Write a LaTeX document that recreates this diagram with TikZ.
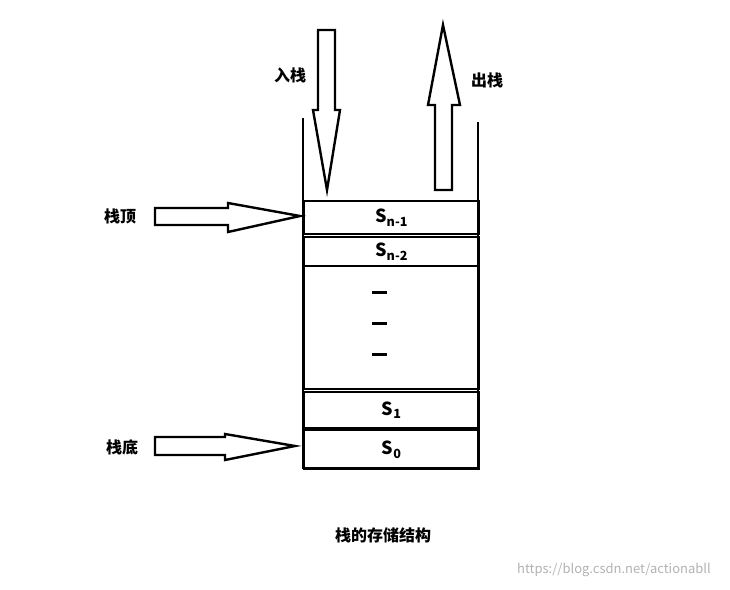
\documentclass[tikz,border=0pt]{standalone}
\usepackage{fontspec}
\setmainfont{Noto Sans CJK SC}
\begin{document}
\begin{tikzpicture}
    [x=1pt,y=-1pt,line width=2.2pt,font=\bfseries\fontsize{16}{19}\selectfont]
    \tikzset{cell/.style={draw,minimum width=175pt,inner sep=0pt,anchor=north west,
        font=\bfseries\fontsize{18}{20}\selectfont},
      hollow/.style={draw,line width=2.4pt,line join=miter}}
    \useasboundingbox (0,0) rectangle (730,589);

    %Walls
    \draw (303,118) -- (303,468) -- (478,468) -- (478,122);

    %Cells
    \node[cell,minimum height=33pt] (sn1) at (303,200){S\textsubscript{n-1}};
    \node[cell,minimum height=29pt] (sn2) at (303,236){S\textsubscript{n-2}};
    \node[cell,minimum height=123pt] (mid) at (303,265){};
    \node[cell,minimum height=36pt] (s1) at (303,391){S\textsubscript{1}};
    \node[cell,minimum height=39pt] (s0) at (303,429){S\textsubscript{0}};
    \foreach \y in {292,323,354}
        \draw[line width=3pt] (372,\y) -- (387,\y);

    %Arrows
    \draw[hollow] (318,30) -- (335,30) -- (335,110) -- (340,110) -- (327,190)
        -- (313,110) -- (318,110) -- cycle;
    \draw[hollow] (435,190) -- (452,190) -- (452,105) -- (460,105) -- (443,25)
        -- (428,105) -- (435,105) -- cycle;
    \draw[hollow] (155,208) -- (228,208) -- (228,203) -- (300,216) -- (228,232)
        -- (228,225) -- (155,225) -- cycle;
    \draw[hollow] (155,437) -- (225,437) -- (225,434) -- (295,446) -- (225,460)
        -- (225,455) -- (155,455) -- cycle;

    %Labels
    \node (push) at (290,75){入栈};
    \node (pop) at (487,80){出栈};
    \node (top) at (120,216){栈顶};
    \node (bottom) at (122,447){栈底};
    \node (title) at (383,535){栈的存储结构};
    \node[font=\fontsize{13}{15}\selectfont,text=black!30] (mark) at (614,570){https://blog.csdn.net/actionabll};
\end{tikzpicture}
\end{document}
